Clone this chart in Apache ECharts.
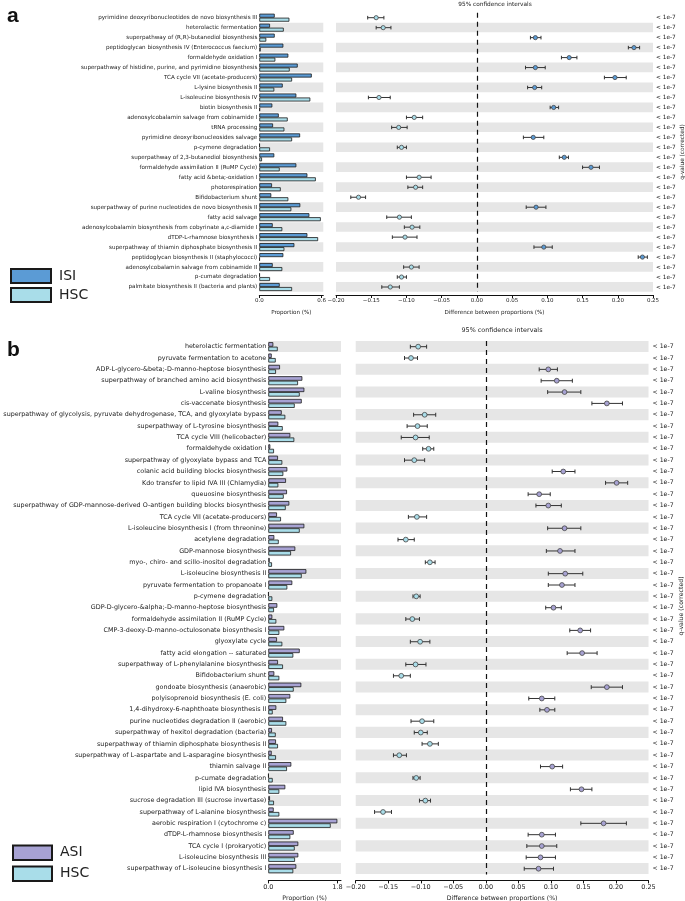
<!DOCTYPE html>
<html><head><meta charset="utf-8">
<script src="https://cdn.jsdelivr.net/npm/echarts@6/dist/echarts.min.js"></script>
<style>html,body{margin:0;padding:0;background:#fff}#c{width:685px;height:901px}</style>
</head><body><div id="c"></div>
<script>
// ---------- Panel a data ----------
const catsA = [
 'pyrimidine deoxyribonucleotides de novo biosynthesis III',
 'heterolactic fermentation',
 'superpathway of (R,R)-butanediol biosynthesis',
 'peptidoglycan biosynthesis IV (Enterococcus faecium)',
 'formaldehyde oxidation I',
 'superpathway of histidine, purine, and pyrimidine biosynthesis',
 'TCA cycle VII (acetate-producers)',
 'L-lysine biosynthesis II',
 'L-isoleucine biosynthesis IV',
 'biotin biosynthesis II',
 'adenosylcobalamin salvage from cobinamide I',
 'tRNA processing',
 'pyrimidine deoxyribonucleosides salvage',
 'p-cymene degradation',
 'superpathway of 2,3-butanediol biosynthesis',
 'formaldehyde assimilation II (RuMP Cycle)',
 'fatty acid &beta;-oxidation I',
 'photorespiration',
 'Bifidobacterium shunt',
 'superpathway of purine nucleotides de novo biosynthesis II',
 'fatty acid salvage',
 'adenosylcobalamin biosynthesis from cobyrinate a,c-diamide I',
 'dTDP-L-rhamnose biosynthesis I',
 'superpathway of thiamin diphosphate biosynthesis II',
 'peptidoglycan biosynthesis II (staphylococci)',
 'adenosylcobalamin salvage from cobinamide II',
 'p-cumate degradation',
 'palmitate biosynthesis II (bacteria and plants)'
];
const isiA = [0.148,0.103,0.148,0.231,0.279,0.369,0.504,0.225,0.356,0.125,0.187,0.132,0.392,0.005,0.144,0.356,0.462,0.122,0.115,0.394,0.481,0.129,0.462,0.337,0.231,0.129,0.005,0.196];
const hscA = [0.289,0.235,0.067,0.013,0.154,0.292,0.315,0.144,0.490,0.007,0.273,0.241,0.315,0.103,0.026,0.196,0.543,0.206,0.279,0.308,0.591,0.221,0.565,0.241,0.005,0.221,0.103,0.315];
const diffA = [-0.143,-0.133,0.083,0.223,0.131,0.083,0.196,0.082,-0.139,0.109,-0.089,-0.111,0.080,-0.107,0.124,0.162,-0.082,-0.087,-0.168,0.084,-0.110,-0.092,-0.102,0.095,0.235,-0.093,-0.107,-0.123];
const loA = [-0.155,-0.143,0.076,0.215,0.120,0.069,0.181,0.072,-0.154,0.104,-0.100,-0.121,0.066,-0.113,0.117,0.150,-0.100,-0.098,-0.179,0.070,-0.128,-0.103,-0.120,0.081,0.229,-0.104,-0.113,-0.135];
const hiA = [-0.132,-0.122,0.091,0.231,0.142,0.097,0.212,0.092,-0.123,0.116,-0.077,-0.099,0.095,-0.100,0.130,0.174,-0.065,-0.077,-0.158,0.098,-0.093,-0.081,-0.085,0.107,0.242,-0.082,-0.100,-0.110];
const qA = catsA.map(() => '< 1e-7');

// ---------- Panel b data ----------
const catsB = [
 'heterolactic fermentation',
 'pyruvate fermentation to acetone',
 'ADP-L-glycero-&beta;-D-manno-heptose biosynthesis',
 'superpathway of branched amino acid biosynthesis',
 'L-valine biosynthesis',
 'cis-vaccenate biosynthesis',
 'superpathway of glycolysis, pyruvate dehydrogenase, TCA, and glyoxylate bypass',
 'superpathway of L-tyrosine biosynthesis',
 'TCA cycle VIII (helicobacter)',
 'formaldehyde oxidation I',
 'superpathway of glyoxylate bypass and TCA',
 'colanic acid building blocks biosynthesis',
 'Kdo transfer to lipid IVA III (Chlamydia)',
 'queuosine biosynthesis',
 'superpathway of GDP-mannose-derived O-antigen building blocks biosynthesis',
 'TCA cycle VII (acetate-producers)',
 'L-isoleucine biosynthesis I (from threonine)',
 'acetylene degradation',
 'GDP-mannose biosynthesis',
 'myo-, chiro- and scillo-inositol degradation',
 'L-isoleucine biosynthesis II',
 'pyruvate fermentation to propanoate I',
 'p-cymene degradation',
 'GDP-D-glycero-&alpha;-D-manno-heptose biosynthesis',
 'formaldehyde assimilation II (RuMP Cycle)',
 'CMP-3-deoxy-D-manno-octulosonate biosynthesis I',
 'glyoxylate cycle',
 'fatty acid elongation -- saturated',
 'superpathway of L-phenylalanine biosynthesis',
 'Bifidobacterium shunt',
 'gondoate biosynthesis (anaerobic)',
 'polyisoprenoid biosynthesis (E. coli)',
 '1,4-dihydroxy-6-naphthoate biosynthesis II',
 'purine nucleotides degradation II (aerobic)',
 'superpathway of hexitol degradation (bacteria)',
 'superpathway of thiamin diphosphate biosynthesis II',
 'superpathway of L-aspartate and L-asparagine biosynthesis',
 'thiamin salvage II',
 'p-cumate degradation',
 'lipid IVA biosynthesis',
 'sucrose degradation III (sucrose invertase)',
 'superpathway of L-alanine biosynthesis',
 'aerobic respiration I (cytochrome c)',
 'dTDP-L-rhamnose biosynthesis I',
 'TCA cycle I (prokaryotic)',
 'L-isoleucine biosynthesis III',
 'superpathway of L-isoleucine biosynthesis I'
];
const asiB = [0.130,0.088,0.304,0.885,0.937,0.869,0.349,0.260,0.572,0.052,0.252,0.494,0.460,0.486,0.546,0.226,0.937,0.156,0.702,0.036,0.989,0.624,0.008,0.234,0.104,0.416,0.226,0.817,0.252,0.156,0.858,0.572,0.208,0.382,0.096,0.200,0.088,0.598,0.008,0.442,0.044,0.140,1.795,0.661,0.780,0.780,0.728];
const hscB = [0.245,0.193,0.200,0.773,0.817,0.687,0.442,0.375,0.676,0.148,0.364,0.390,0.260,0.401,0.453,0.330,0.817,0.271,0.591,0.096,0.869,0.494,0.104,0.148,0.208,0.286,0.364,0.650,0.382,0.286,0.661,0.468,0.114,0.468,0.193,0.252,0.200,0.486,0.114,0.286,0.148,0.286,1.623,0.572,0.687,0.695,0.650];
const diffB = [-0.104,-0.115,0.096,0.109,0.121,0.186,-0.094,-0.105,-0.108,-0.088,-0.110,0.119,0.201,0.082,0.096,-0.106,0.121,-0.123,0.114,-0.086,0.122,0.117,-0.107,0.104,-0.113,0.145,-0.101,0.148,-0.108,-0.130,0.186,0.086,0.094,-0.098,-0.100,-0.086,-0.133,0.102,-0.107,0.147,-0.093,-0.158,0.181,0.086,0.086,0.084,0.081];
const loB = [-0.116,-0.125,0.082,0.085,0.095,0.163,-0.111,-0.121,-0.130,-0.097,-0.125,0.102,0.184,0.065,0.077,-0.119,0.095,-0.135,0.093,-0.093,0.096,0.096,-0.112,0.092,-0.123,0.129,-0.116,0.125,-0.123,-0.142,0.162,0.066,0.083,-0.115,-0.110,-0.098,-0.142,0.084,-0.112,0.130,-0.102,-0.171,0.146,0.065,0.063,0.062,0.059];
const hiB = [-0.091,-0.105,0.110,0.133,0.146,0.210,-0.077,-0.090,-0.087,-0.080,-0.094,0.137,0.218,0.099,0.116,-0.091,0.146,-0.110,0.137,-0.078,0.149,0.137,-0.101,0.116,-0.102,0.161,-0.086,0.171,-0.092,-0.116,0.210,0.106,0.106,-0.080,-0.090,-0.073,-0.122,0.118,-0.101,0.163,-0.085,-0.145,0.216,0.107,0.109,0.107,0.104];
const qB = catsB.map(() => '< 1e-7');

// ---------- styles ----------
const FONT = 'DejaVu Sans';
const C_ISI = '#5b9bd5', C_ASI = '#a7a2d3', C_HSC = '#a9dde9', GRAY = '#e6e6e6', INK = '#222';

const G = {
  aBar: {left: 259.3, top: 12.7, width: 64, height: 279.3},
  aCI:  {left: 336, top: 12.7, width: 317, height: 279.3},
  bBar: {left: 268.3, top: 341, width: 72.7, height: 533.4},
  bCI:  {left: 355.7, top: 341, width: 292.8, height: 533.4}
};

function grayRows(n) { const r = []; for (let i = 0; i < n; i++) if ((n - 1 - i) % 2 === 0) r.push([0, i]); return r; }
function bandRender(params, api) {
  const idx = api.value(1);
  const p = api.coord([0, idx]);
  const h = api.size([0, 1])[1];
  const cs = params.coordSys;
  return {type: 'rect', shape: {x: cs.x, y: p[1] - h / 2, width: cs.width, height: h - 0.3}, style: {fill: GRAY}, z2: 0};
}
function errRender(cPos, cNeg, capH, r) {
  return function (params, api) {
    const idx = api.value(0), d = api.value(1), lo = api.value(2), hi = api.value(3);
    const pl = api.coord([lo, idx]), ph = api.coord([hi, idx]), pc = api.coord([d, idx]);
    const st = {stroke: '#333', lineWidth: 1};
    return {type: 'group', children: [
      {type: 'line', shape: {x1: pl[0], y1: pl[1], x2: ph[0], y2: ph[1]}, style: st},
      {type: 'line', shape: {x1: pl[0], y1: pl[1] - capH, x2: pl[0], y2: pl[1] + capH}, style: st},
      {type: 'line', shape: {x1: ph[0], y1: ph[1] - capH, x2: ph[0], y2: ph[1] + capH}, style: st},
      {type: 'circle', shape: {cx: pc[0], cy: pc[1], r: r}, style: {fill: d > 0 ? cPos : cNeg, stroke: '#444', lineWidth: 0.8}}
    ]};
  };
}
const ciFmt = v => (v < -1e-9 ? '\u2212' : '') + Math.abs(v).toFixed(2);

function catAxis(gi, cats, labelFs, pos, fmt, margin) {
  return {type: 'category', gridIndex: gi, data: cats, inverse: true, position: pos,
    axisLine: {show: false}, axisTick: {show: false}, splitLine: {show: false},
    axisLabel: {interval: 0, fontSize: labelFs, fontFamily: FONT, color: INK, margin: margin,
      formatter: fmt}};
}
function valAxis(gi, min, max, opts) {
  return Object.assign({type: 'value', gridIndex: gi, min: min, max: max,
    axisLine: {show: true, lineStyle: {color: '#111', width: 1}},
    axisTick: {show: true, length: 3, lineStyle: {color: '#111'}},
    splitLine: {show: false},
    nameLocation: 'middle'}, opts);
}
function gridOf(g) { return Object.assign({containLabel: false, outerBoundsMode: 'none'}, g); }

const chart = echarts.init(document.getElementById('c'), null, {renderer: 'canvas'});
const option = {
  animation: false,
  grid: [gridOf(G.aBar), gridOf(G.aCI), gridOf(G.bBar), gridOf(G.bCI)],
  xAxis: [
    valAxis(0, 0, 0.615, {offset: 3, name: 'Proportion (%)', nameGap: 15,
      nameTextStyle: {fontSize: 5.6, fontFamily: FONT, color: INK},
      axisTick: {show: true, length: 3, lineStyle: {color: '#111'}, customValues: [0, 0.6]},
      axisLabel: {customValues: [0, 0.6], fontSize: 5.5, fontFamily: FONT, color: INK, margin: 3, formatter: v => v.toFixed(1)}}),
    valAxis(1, -0.2, 0.25, {interval: 0.05, offset: 3, name: 'Difference between proportions (%)', nameGap: 15,
      nameTextStyle: {fontSize: 5.6, fontFamily: FONT, color: INK},
      axisLabel: {fontSize: 5.5, fontFamily: FONT, color: INK, margin: 3, formatter: ciFmt}}),
    valAxis(2, 0, 1.891, {offset: 6, name: 'Proportion (%)', nameGap: 14.5,
      nameTextStyle: {fontSize: 6.2, fontFamily: FONT, color: INK},
      axisTick: {show: true, length: 3, lineStyle: {color: '#111'}, customValues: [0, 1.8]},
      axisLabel: {customValues: [0, 1.8], fontSize: 6.5, fontFamily: FONT, color: INK, margin: 3, formatter: v => v.toFixed(1)}}),
    valAxis(3, -0.2, 0.25, {interval: 0.05, offset: 6, name: 'Difference between proportions (%)', nameGap: 14.5,
      nameTextStyle: {fontSize: 6.2, fontFamily: FONT, color: INK},
      axisLabel: {fontSize: 6.5, fontFamily: FONT, color: INK, margin: 3, formatter: ciFmt}})
  ],
  yAxis: [
    catAxis(0, catsA, 5.6, 'left', undefined, 2),
    catAxis(1, catsA, 5.8, 'right', (v, i) => qA[i], 3),
    catAxis(2, catsB, 6.4, 'left', undefined, 2),
    catAxis(3, catsB, 6.2, 'right', (v, i) => qB[i], 4)
  ],
  legend: [
    {left: 5, top: 263, orient: 'vertical', icon: 'rect', itemWidth: 40, itemHeight: 14, itemGap: 3,
      data: ['ISI', 'HSC'], textStyle: {fontSize: 14, fontFamily: FONT, color: INK, padding: [0, 0, 0, 3]}},
    {left: 7, top: 839.5, orient: 'vertical', icon: 'rect', itemWidth: 39, itemHeight: 14.5, itemGap: 4.5,
      data: ['ASI', {name: 'HSC '}], textStyle: {fontSize: 14, fontFamily: FONT, color: INK, padding: [0, 0, 0, 3]}}
  ],
  series: [
    {type: 'custom', xAxisIndex: 0, yAxisIndex: 0, data: grayRows(catsA.length), renderItem: bandRender, z: 0, silent: true, encode: {x: 0, y: 1}},
    {type: 'custom', xAxisIndex: 1, yAxisIndex: 1, data: grayRows(catsA.length), renderItem: bandRender, z: 0, silent: true, encode: {x: 0, y: 1}},
    {type: 'custom', xAxisIndex: 2, yAxisIndex: 2, data: grayRows(catsB.length), renderItem: bandRender, z: 0, silent: true, encode: {x: 0, y: 1}},
    {type: 'custom', xAxisIndex: 3, yAxisIndex: 3, data: grayRows(catsB.length), renderItem: bandRender, z: 0, silent: true, encode: {x: 0, y: 1}},
    {name: 'ISI', type: 'bar', xAxisIndex: 0, yAxisIndex: 0, data: isiA, barWidth: 4, barGap: '0%', z: 2,
      itemStyle: {color: C_ISI, borderColor: '#1a1a1a', borderWidth: 0.8}},
    {name: 'HSC', type: 'bar', xAxisIndex: 0, yAxisIndex: 0, data: hscA, barWidth: 4, barGap: '0%', z: 2,
      itemStyle: {color: C_HSC, borderColor: '#1a1a1a', borderWidth: 0.8}},
    {type: 'custom', xAxisIndex: 1, yAxisIndex: 1, z: 3,
      data: diffA.map((d, i) => [i, d, loA[i], hiA[i]]), encode: {x: [1, 2, 3], y: 0},
      renderItem: errRender(C_ISI, C_HSC, 1.8, 2.1),
      markLine: {silent: true, symbol: 'none', label: {show: false}, animation: false,
        lineStyle: {type: [5, 4], color: '#111', width: 1.2}, data: [{xAxis: 0}]}},
    {name: 'ASI', type: 'bar', xAxisIndex: 2, yAxisIndex: 2, data: asiB, barWidth: 4.5, barGap: '0%', z: 2,
      itemStyle: {color: C_ASI, borderColor: '#1a1a1a', borderWidth: 0.8}},
    {name: 'HSC ', type: 'bar', xAxisIndex: 2, yAxisIndex: 2, data: hscB, barWidth: 4.5, barGap: '0%', z: 2,
      itemStyle: {color: C_HSC, borderColor: '#1a1a1a', borderWidth: 0.8}},
    {type: 'custom', xAxisIndex: 3, yAxisIndex: 3, z: 3,
      data: diffB.map((d, i) => [i, d, loB[i], hiB[i]]), encode: {x: [1, 2, 3], y: 0},
      renderItem: errRender(C_ASI, C_HSC, 2, 2.4),
      markLine: {silent: true, symbol: 'none', label: {show: false}, animation: false,
        lineStyle: {type: [5, 4], color: '#111', width: 1.2}, data: [{xAxis: 0}]}}
  ],
  graphic: [
    {type: 'text', left: 7, top: 6, style: {text: 'a', font: 'bold 21px "Liberation Sans"', fill: '#111'}},
    {type: 'text', left: 7, top: 340, style: {text: 'b', font: 'bold 21px "Liberation Sans"', fill: '#111'}},
    {type: 'text', x: 495, y: 4, style: {text: '95% confidence intervals', font: '5.8px "DejaVu Sans"', fill: INK, align: 'center', verticalAlign: 'middle'}},
    {type: 'text', x: 502, y: 330, style: {text: '95% confidence intervals', font: '6.4px "DejaVu Sans"', fill: INK, align: 'center', verticalAlign: 'middle'}},
    {type: 'text', x: 682, y: 152, rotation: Math.PI / 2, style: {text: 'q-value (corrected)', font: '5.8px "DejaVu Sans"', fill: INK, align: 'center', verticalAlign: 'middle'}},
    {type: 'text', x: 681, y: 606, rotation: Math.PI / 2, style: {text: 'q-value (corrected)', font: '6.2px "DejaVu Sans"', fill: INK, align: 'center', verticalAlign: 'middle'}}
  ]
};
chart.setOption(option);
</script>
</body></html>
